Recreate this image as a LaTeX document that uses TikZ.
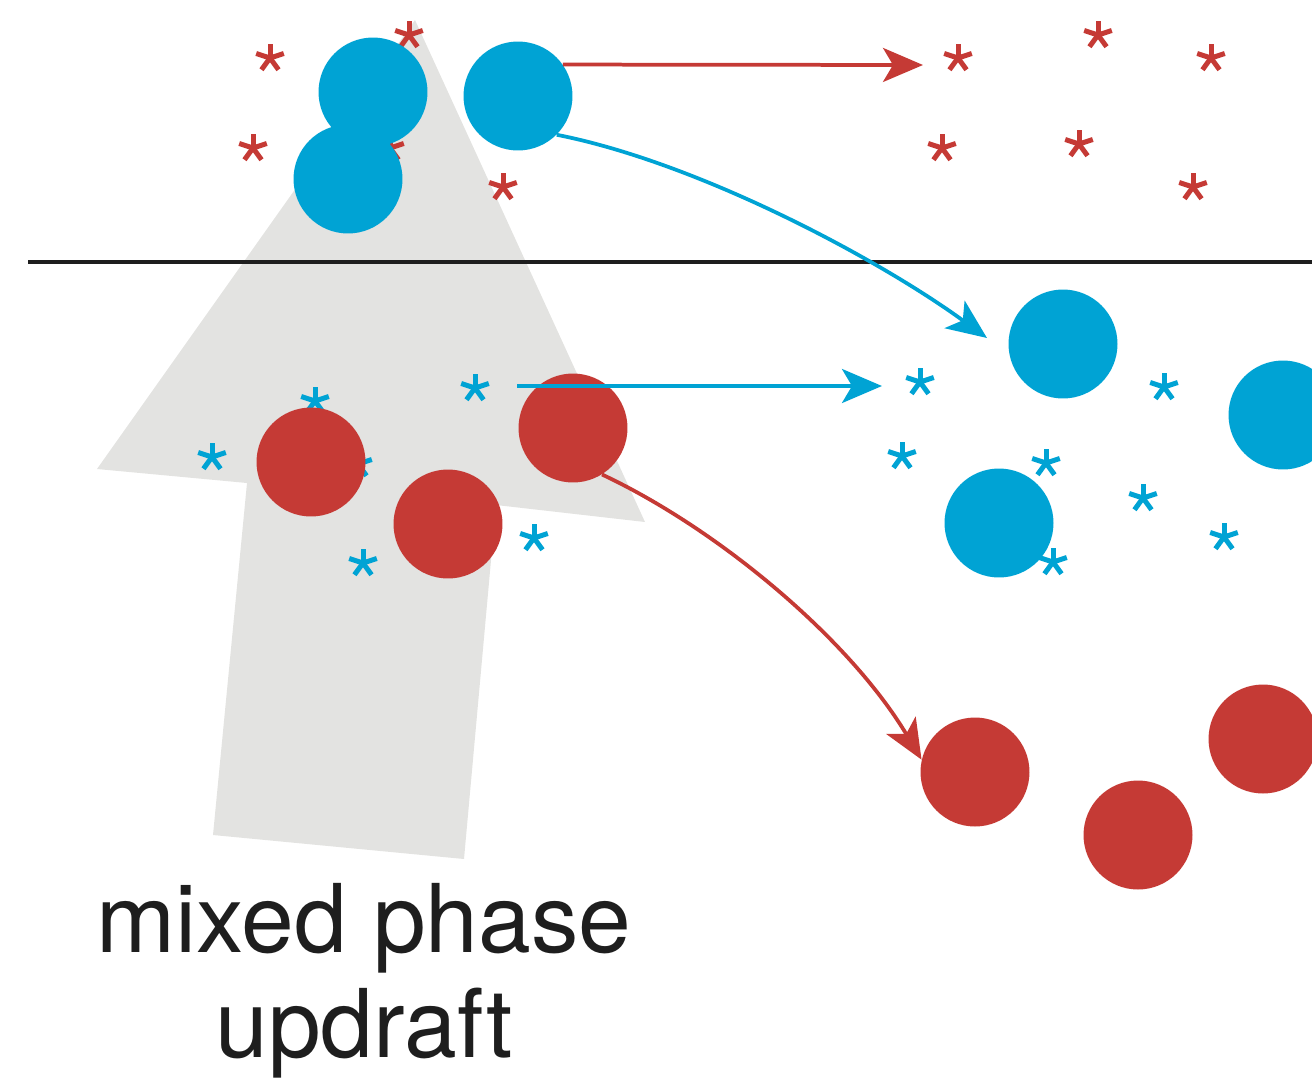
\documentclass[tikz,border=0pt]{standalone}
\usepackage{fontspec}
\setmainfont{TeX Gyre Heros}
\usetikzlibrary{arrows.meta}
\definecolor{cblue}{HTML}{00A3D4}
\definecolor{cred}{HTML}{C53A35}
\definecolor{cgray}{HTML}{E3E3E1}
\definecolor{ctext}{HTML}{1E1E1E}
\tikzset{drop/.style={circle, inner sep=0pt, minimum size=2.18cm},
  bluedrop/.style={drop, fill=cblue}, reddrop/.style={drop, fill=cred},
  redast/.style={cred}, blueast/.style={cblue},
  flow/.style={line width=0.075cm, -{Stealth[length=0.8cm,width=0.68cm,inset=0.2cm]}},
  lbl/.style={ctext, font=\fontsize{54}{63}\selectfont, inner sep=0pt}}
\tikzset{aster/.pic={\foreach \a in {90,162,234,306,18} \draw[line width=0.1cm] (0,0) -- (\a:0.29cm);}}

\begin{document}
\begin{tikzpicture}[x=0.02cm, y=-0.02cm]
  \clip (0,0) rectangle (1312,1079);
  % updraft arrow and cloud base
  \fill[cgray] (415,20) -- (645,522) -- (496,505) -- (464,859) -- (213,835) -- (247,483) -- (97,469) -- cycle;
  \draw[ctext, line width=0.07cm] (28,262) -- (1312,262);
  % upper part: red ice, blue drops
  \foreach \p in {(270,58),(409,35),(253,148),(390,148),(503,187)} \pic[redast] at \p {aster};
  \node[bluedrop] (bu1) at (373,92) {};
  \node[bluedrop] (bu2) at (348,179) {};
  \node[bluedrop] (bu3) at (518,96) {};
  % lower part: blue ice, red drops
  \foreach \p in {(212,457),(315,401),(475,388),(358,464),(363,563),(534,538)} \pic[blueast] at \p {aster};
  \node[reddrop] (rd1) at (573,428) {};
  \node[reddrop] (rd2) at (311,462) {};
  \node[reddrop] (rd3) at (448,524) {};
  % right side
  \foreach \p in {(958,58),(1098,35),(1211,58),(942,148),(1079,144),(1193,187)} \pic[redast] at \p {aster};
  \foreach \p in {(920,382),(1164,387),(902,456),(1046,463),(1143,498),(1224,537),(1053,562)} \pic[blueast] at \p {aster};
  \node[bluedrop] (br1) at (1063,344) {};
  \node[bluedrop] (br2) at (1283,415) {};
  \node[bluedrop] (br3) at (999,523) {};
  \node[reddrop] (rr1) at (975,772) {};
  \node[reddrop] (rr2) at (1138,835) {};
  \node[reddrop] (rr3) at (1263,739) {};
  % transport arrows
  \coordinate (e1) at (923,65);
  \coordinate (e2) at (987,338);
  \coordinate (s3) at (517,386);
  \coordinate (e3) at (882,386);
  \draw[flow, cred] (bu3.35) -- (e1);
  \draw[flow, cblue] (bu3.-45) .. controls (700,163) and (880,260) .. (e2);
  \draw[flow, cblue] (s3) -- (e3);
  \draw[flow, cred] (rd1.-58) .. controls (720,530) and (850,640) .. (rr1.167);
  % label
  \node[lbl, anchor=base] (t1) at (364,952) {mixed phase};
  \node[lbl, anchor=base] (t2) at ([yshift=-2.12cm]t1.base) {updraft};
\end{tikzpicture}
\end{document}
